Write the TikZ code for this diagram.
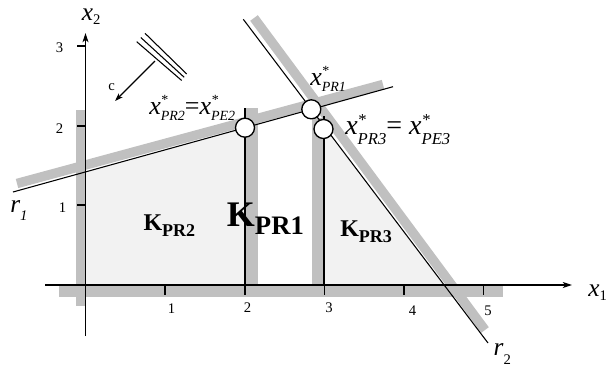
\documentclass[tikz,border=0pt]{standalone}
\usepackage{fontspec}
\setmainfont{Liberation Serif}
\usetikzlibrary{arrows.meta}
\definecolor{bandgray}{RGB}{192,192,192}
\definecolor{regiongray}{RGB}{242,242,242}
% #1 main size, #2 sub size, #3 sub drop, #4 star raise, #5 subscript
\newcommand{\xsol}[5]{{\fontsize{#1}{#1}\selectfont\textit{x}}\rlap{\raisebox{#4}{\fontsize{#2}{#2}\selectfont\hspace{0.5pt}*}}\raisebox{-#3}{\fontsize{#2}{#2}\selectfont\textit{#5}}}
% #1 main size, #2 sub size, #3 drop, #4 letter, #5 subscript
\newcommand{\varsub}[5]{{\fontsize{#1}{#1}\selectfont\textit{#4}}\raisebox{-#3}{\fontsize{#2}{#2}\selectfont #5}}
\tikzset{
  bandline/.style={bandgray,line width=7.1pt},
  cline/.style={black,line width=0.8pt},
  axis/.style={black,line width=0.8pt,-{Stealth[length=7pt,width=4.5pt,inset=2pt]}},
  tickmark/.style={black,line width=0.8pt},
  ticklbl/.style={inner sep=0pt,font=\fontsize{11}{13}\selectfont},
  lbl/.style={inner sep=0pt,anchor=base west},
  solpt/.style={circle,draw=black,fill=white,line width=1pt,minimum size=14.25pt,inner sep=0pt}
}
\begin{document}
\begin{tikzpicture}[x=0.75pt,y=-0.75pt]
\useasboundingbox (0,0) rectangle (608,372);
% feasible regions
\fill[regiongray] (85.5,285) -- (85.5,171.9) -- (245,127.7) -- (245,285) -- cycle;
\fill[regiongray] (324,285) -- (324,126.1) -- (444.1,285) -- cycle;
% bands
\fill[bandgray] (76,110) rectangle (85.5,305.7);
\fill[bandgray] (59,285) rectangle (502.7,296.7);
\fill[bandgray] (245,108) rectangle (258.3,285);
\fill[bandgray] (311.7,118) rectangle (323.5,285);
\coordinate (b1s) at (17,183.5); \coordinate (b1e) at (383,84.5);
\draw[bandline] (b1s) -- (b1e);
\coordinate (b2s) at (254,18); \coordinate (b2e) at (485,330);
\draw[bandline] (b2s) -- (b2e);
% constraint lines
\coordinate (r1s) at (13,192); \coordinate (r1e) at (393,86.7);
\coordinate (r2s) at (243.3,19.3); \coordinate (r2e) at (488,343);
\draw[cline] (r1s) -- (r1e);
\draw[cline] (r2s) -- (r2e);
\coordinate (v2b) at (245,285); \coordinate (v2t) at (245,108);
\coordinate (v3b) at (324,285); \coordinate (v3t) at (324,116);
\draw[cline] (v2b) -- (v2t);
\draw[cline] (v3b) -- (v3t);
% axes
\coordinate (xs) at (45,285); \coordinate (xe) at (572,285);
\coordinate (ys) at (85.5,336); \coordinate (ye) at (85.5,33);
\draw[axis] (xs) -- (xe);
\draw[axis] (ys) -- (ye);
\foreach \t in {165,245,324.5,404,483.3} \draw[tickmark] (\t,285) -- (\t,295);
\foreach \t in {46,126,205} \draw[tickmark] (77,\t) -- (85.5,\t);
\node[ticklbl] (tx1) at (171.5,309) {1};
\node[ticklbl] (tx2) at (247.5,307.5) {2};
\node[ticklbl] (tx3) at (329,307.5) {3};
\node[ticklbl] (tx4) at (412.5,311) {4};
\node[ticklbl] (tx5) at (488,311) {5};
\node[ticklbl] (ty1) at (62.5,208) {1};
\node[ticklbl] (ty2) at (59.5,129) {2};
\node[ticklbl] (ty3) at (59.5,47.5) {3};
% objective direction
\coordinate (ca1) at (145,33.3); \coordinate (cb1) at (186.7,74);
\coordinate (ca2) at (140.8,37.5); \coordinate (cb2) at (184.2,77.3);
\coordinate (ca3) at (136.7,41.7); \coordinate (cb3) at (181.7,80.5);
\draw[cline] (ca1) -- (cb1);
\draw[cline] (ca2) -- (cb2);
\draw[cline] (ca3) -- (cb3);
\coordinate (cs) at (155,61); \coordinate (ce) at (115,101);
\draw[cline,-{Stealth[length=6pt,width=4pt,inset=1.5pt]}] (cs) -- (ce);
\node[ticklbl] (lc) at (111.7,86.7) {c};
% solution points
\node[solpt] (p2) at (245,127.7) {};
\node[solpt] (p1) at (311.3,109.3) {};
\node[solpt] (p3) at (323.5,129) {};
% labels
\node[lbl] (lx2) at (81.7,20.7) {\varsub{19}{11}{3.2pt}{x}{2}};
\node[lbl] (lx1) at (588,296.7) {\varsub{19}{11}{3.2pt}{x}{1}};
\node[lbl] (lr1) at (10,212.5) {\varsub{19}{11}{6pt}{r}{\textit{1}}};
\node[lbl] (lr2) at (493.3,355) {\varsub{19}{11}{7pt}{r}{2}};
\node[lbl] (lp2) at (149,114) {\xsol{19.5}{10.5}{4.5pt}{7.5pt}{PR2}{\fontsize{19.5}{20}\selectfont=}\xsol{19.5}{10.5}{4.5pt}{7.5pt}{PE2}};
\node[lbl] (lp1) at (310,85) {\xsol{19.5}{10.5}{4.5pt}{7.5pt}{PR1}};
\node[lbl] (lp3) at (345,134) {\xsol{21}{12.5}{8pt}{6.5pt}{PR3}{\fontsize{21}{22}\selectfont= }\xsol{21}{12.5}{8pt}{6.5pt}{PE3}};
\node[lbl,font=\fontsize{18}{20}\selectfont\bfseries] (k2) at (143.3,230.7) {K\raisebox{-4pt}{\fontsize{13.5}{14}\selectfont PR2}};
\node[lbl,font=\fontsize{27}{30}\selectfont\bfseries] (k1) at (226.7,226.7) {K\raisebox{-5.5pt}{\fontsize{20}{22}\selectfont PR1}};
\node[lbl,font=\fontsize{18}{20}\selectfont\bfseries] (k3) at (340,236.7) {K\raisebox{-4pt}{\fontsize{13.5}{14}\selectfont PR3}};
\end{tikzpicture}
\end{document}
